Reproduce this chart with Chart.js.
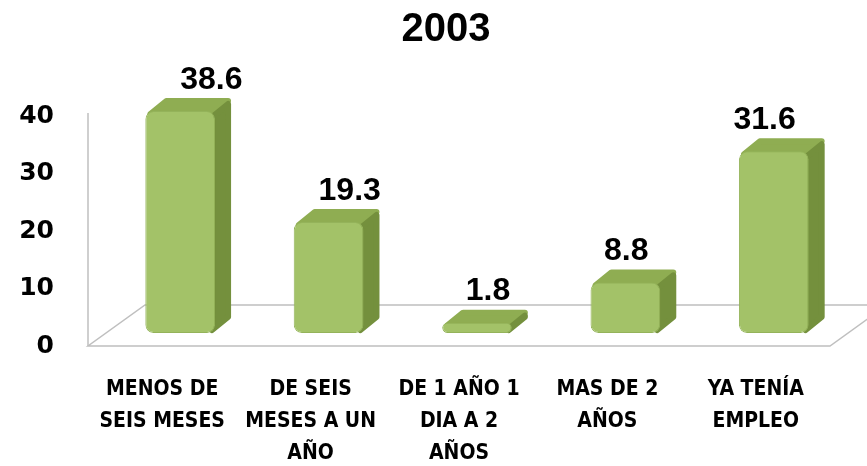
<!DOCTYPE html>
<html>
<head>
<meta charset="utf-8">
<script src="https://cdn.jsdelivr.net/npm/chart.js@4"></script>
<style>
  html, body { margin: 0; padding: 0; background: #fff; }
  #wrap { width: 867px; height: 466px; }
</style>
</head>
<body>
<div id="wrap"><canvas id="chart"></canvas></div>
<script>
// Data
const categories = [
    ['MENOS DE', 'SEIS MESES'],
    ['DE SEIS', 'MESES A UN', 'AÑO'],
    ['DE 1 AÑO 1', 'DIA A 2', 'AÑOS'],
    ['MAS DE 2', 'AÑOS'],
    ['YA TENÍA', 'EMPLEO']
];
const values = [38.6, 19.3, 1.8, 8.8, 31.6];
const yTicks = [0, 10, 20, 30, 40];
const title = '2003';

// 3D look: bars sit a bit back on the floor, floor has depth
const shift = { dx: 18, dy: -13 };
const depth = { dx: 16, dy: -13 };
const floorDepth = { dx: 57, dy: -41 };

const fakeThreeD = {
    id: 'fakeThreeD',
    beforeDatasetsDraw(chart) {
        const ctx = chart.ctx;
        const a = chart.chartArea;

        // wall line and floor
        ctx.save();
        ctx.strokeStyle = '#bfbfbf';
        ctx.lineWidth = 1.5;
        ctx.beginPath();
        ctx.moveTo(a.left, a.top - 3);
        ctx.lineTo(a.left, a.bottom);
        ctx.stroke();
        ctx.beginPath();
        ctx.moveTo(a.left, a.bottom);
        ctx.lineTo(a.right, a.bottom);
        ctx.lineTo(a.right + floorDepth.dx, a.bottom + floorDepth.dy);
        ctx.lineTo(a.left + floorDepth.dx, a.bottom + floorDepth.dy);
        ctx.closePath();
        ctx.stroke();
        ctx.restore();

        // move bars into the floor, kept until afterDatasetsDraw
        ctx.save();
        ctx.translate(shift.dx, shift.dy);

        const meta = chart.getDatasetMeta(0);
        meta.data.forEach(bar => {
            const left = bar.x - bar.width / 2;
            const right = bar.x + bar.width / 2;
            const top = bar.y;
            const base = bar.base;
            ctx.lineJoin = 'round';
            ctx.lineWidth = 6;

            // top face
            ctx.fillStyle = '#8fad52';
            ctx.strokeStyle = '#8fad52';
            ctx.beginPath();
            ctx.moveTo(left + 5, top + 3);
            ctx.lineTo(left + 5 + depth.dx, top + 3 + depth.dy);
            ctx.lineTo(right - 3 + depth.dx, top + 3 + depth.dy);
            ctx.lineTo(right - 3, top + 3);
            ctx.closePath();
            ctx.fill();
            ctx.stroke();

            // side face
            ctx.fillStyle = '#74903d';
            ctx.strokeStyle = '#74903d';
            ctx.beginPath();
            ctx.moveTo(right - 3, top + 6);
            ctx.lineTo(right - 3 + depth.dx, top + 6 + depth.dy);
            ctx.lineTo(right - 3 + depth.dx, base - 3 + depth.dy);
            ctx.lineTo(right - 3, base - 3);
            ctx.closePath();
            ctx.fill();
            ctx.stroke();
        });
    },
    afterDatasetsDraw(chart) {
        const ctx = chart.ctx;
        ctx.restore();

        // value labels, pulled a little toward the middle like the 3D view
        const meta = chart.getDatasetMeta(0);
        const mid = (chart.chartArea.left + chart.chartArea.right) / 2 + shift.dx;
        ctx.save();
        ctx.font = 'bold 32px "Liberation Sans", Arial, sans-serif';
        ctx.fillStyle = '#000';
        ctx.textAlign = 'center';
        ctx.textBaseline = 'middle';
        meta.data.forEach((bar, i) => {
            const fx = bar.x + shift.dx;
            const x = fx + 11 - 0.068 * (fx - mid);
            ctx.fillText(values[i].toFixed(1), x, bar.y + shift.dy - 31);
        });
        ctx.restore();
    },
    afterDraw(chart) {
        const ctx = chart.ctx;
        ctx.save();
        ctx.font = 'bold 40px "Liberation Sans", Arial, sans-serif';
        ctx.fillStyle = '#000';
        ctx.textAlign = 'center';
        ctx.textBaseline = 'middle';
        ctx.fillText(title, 446, 30);
        ctx.restore();
    }
};

const ctxChart = document.getElementById('chart').getContext('2d');
const chart = new Chart(ctxChart, {
    type: 'bar',
    data: {
        labels: categories,
        datasets: [{
            data: values,
            backgroundColor: '#a3c268',
            borderColor: '#94b35a',
            borderWidth: 1,
            borderRadius: 8,
            borderSkipped: false,
            barPercentage: 0.47,
            categoryPercentage: 1,
            clip: false
        }]
    },
    options: {
        responsive: true,
        maintainAspectRatio: false,
        animation: false,
        layout: {
            padding: { left: 0, right: 37, top: 116, bottom: 0 }
        },
        scales: {
            x: {
                grid: { display: false, drawTicks: false },
                border: { display: false },
                ticks: {
                    color: '#000',
                    padding: 28,
                    maxRotation: 0,
                    autoSkip: false,
                    font: { family: '"DejaVu Sans Condensed", "Liberation Sans Narrow", sans-serif', weight: 'bold', size: 21, lineHeight: 1.52 }
                },
                afterFit(scale) { scale.height = 120; }
            },
            y: {
                min: 0,
                max: 40,
                grid: { display: false, drawTicks: false },
                border: { display: false },
                afterBuildTicks(scale) {
                    scale.ticks = yTicks.map(v => ({ value: v }));
                },
                ticks: {
                    color: '#000',
                    padding: 34,
                    font: { family: '"DejaVu Sans", sans-serif', weight: 'bold', size: 25 }
                },
                afterFit(scale) { scale.width = 88; }
            }
        },
        plugins: {
            legend: { display: false },
            tooltip: { enabled: false },
            title: { display: false }
        }
    },
    plugins: [fakeThreeD]
});
</script>
</body>
</html>
